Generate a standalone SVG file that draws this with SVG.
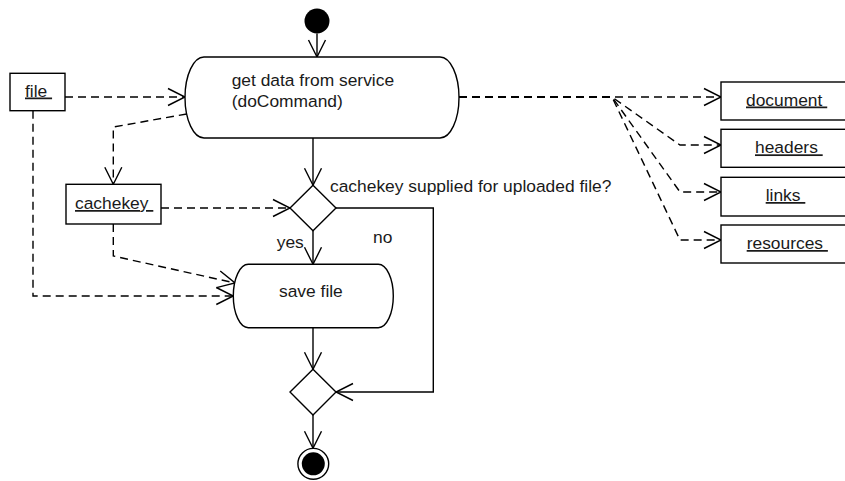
<svg xmlns="http://www.w3.org/2000/svg" width="845" height="481" viewBox="0 0 845 481">
  <style>
    .shape { fill: #fff; stroke: #000; stroke-width: 1.4; }
    .label { font-family: "Liberation Sans", Arial, Helvetica, sans-serif; font-size: 17.4px; fill: #1a1a1a; }
    .obj { text-decoration: underline; }
    .flow { fill: none; stroke: #000; stroke-width: 1.4; marker-end: url(#open); }
    .dep { stroke-dasharray: 8 5; }
  </style>
  <defs>
    <!-- open V arrowhead shared by control and object flows -->
    <marker id="open" markerUnits="userSpaceOnUse" markerWidth="20" markerHeight="20" refX="18" refY="9" orient="auto" overflow="visible">
      <path d="M1,0.5 L18,9 L1,17.5" fill="none" stroke="#000" stroke-width="1.4" stroke-dasharray="none"/>
    </marker>
  </defs>

  <rect width="845" height="481" fill="#fff"/>

  <!-- control and object flows -->
  <g id="connectors">
    <line class="flow" x1="317" y1="33.5" x2="317" y2="57"/>
    <line class="flow dep" x1="65" y1="97" x2="185" y2="97"/>
    <polyline class="flow dep" points="186.7,114 113.3,127 113.3,184.3"/>
    <line class="flow" x1="313" y1="138" x2="313" y2="185.3"/>
    <line class="flow dep" x1="161" y1="208" x2="290" y2="208"/>
    <line class="flow" x1="313" y1="230.7" x2="313" y2="264.3"/>
    <polyline class="flow" points="336,208 433.3,208 433.3,392 336,392"/>
    <polyline class="flow dep" points="113.3,224 113.3,256 235,283"/>
    <polyline class="flow dep" points="33,110.7 33,296 233.3,296"/>
    <line class="flow" x1="313" y1="327.7" x2="313" y2="369.3"/>
    <line class="flow" x1="313" y1="415" x2="313" y2="448.3"/>
    <line class="flow dep" x1="459" y1="97" x2="721" y2="97"/>
    <polyline class="flow dep" points="459,97 612,97 680,145 721,145"/>
    <polyline class="flow dep" points="459,97 612,97 680,192 721,192"/>
    <polyline class="flow dep" points="459,97 612,97 680,240 721,240"/>
  </g>

  <g id="start">
    <circle cx="317" cy="21" r="12.5" fill="#000"/>
  </g>

  <g id="get-data">
    <path class="shape" d="M204,57 H440 A19,40.5 0 0 1 459,97.5 A19,40.5 0 0 1 440,138 H204 A19,40.5 0 0 1 185,97.5 A19,40.5 0 0 1 204,57 Z"/>
    <text class="label" x="231.7" y="85.5">get data from service</text>
    <text class="label" x="231.7" y="106.5">(doCommand)</text>
  </g>

  <g id="file">
    <rect class="shape" x="10" y="73.3" width="55" height="37.4"/>
    <text class="label obj" x="25" y="96.5">file&#160;</text>
  </g>

  <g id="cachekey">
    <rect class="shape" x="66" y="184.3" width="95" height="39.7"/>
    <text class="label obj" x="75" y="209">cachekey&#160;</text>
  </g>

  <g id="decision">
    <polygon class="shape" points="313,185.3 336,208 313,230.7 290,208"/>
    <text class="label" x="330" y="192">cachekey supplied for uploaded file?</text>
    <text class="label" x="373" y="242.5">no</text>
    <text class="label" x="276.7" y="247.5">yes</text>
  </g>

  <g id="save-file">
    <path class="shape" d="M248.3,264.3 H378.3 A15,31.7 0 0 1 393.3,296 A15,31.7 0 0 1 378.3,327.7 H248.3 A15,31.7 0 0 1 233.3,296 A15,31.7 0 0 1 248.3,264.3 Z"/>
    <text class="label" x="279" y="296.7">save file</text>
  </g>

  <g id="merge">
    <polygon class="shape" points="313,369.3 336,392 313,415 290,392"/>
  </g>

  <g id="end">
    <circle cx="313.3" cy="463.8" r="15.4" fill="#fff" stroke="#000" stroke-width="1.4"/>
    <circle cx="313.3" cy="463.8" r="11.5" fill="#000"/>
  </g>

  <g id="document">
    <rect class="shape" x="721" y="82" width="134" height="38"/>
    <text class="label obj" x="746" y="105.5">document&#160;</text>
  </g>

  <g id="headers">
    <rect class="shape" x="721" y="129.3" width="134" height="38"/>
    <text class="label obj" x="755" y="153.3">headers&#160;</text>
  </g>

  <g id="links">
    <rect class="shape" x="721" y="177.3" width="134" height="38.7"/>
    <text class="label obj" x="765.7" y="201">links&#160;</text>
  </g>

  <g id="resources">
    <rect class="shape" x="721" y="225" width="134" height="38"/>
    <text class="label obj" x="746.7" y="249">resources&#160;</text>
  </g>
</svg>
